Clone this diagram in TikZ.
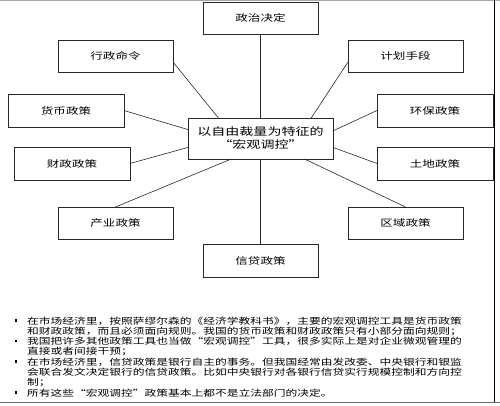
\documentclass[tikz,border=0pt]{standalone}
\usepackage{fontspec}
\usepackage{xcolor}
\usetikzlibrary{positioning}
\newfontfamily\cjk[FakeStretch=1.35]{Noto Sans CJK SC}
\definecolor{frameGray}{RGB}{110,110,110}
\definecolor{lineDark}{RGB}{40,40,40}

\tikzset{
    policy/.style={rectangle, draw=lineDark, line width=0.8pt, fill=white, minimum width=115pt, minimum height=32pt, inner sep=0pt, outer sep=0pt, font={\cjk\fontsize{9.3pt}{11pt}\selectfont}},
    hub/.style={rectangle, draw=lineDark, line width=0.8pt, fill=white, minimum width=145pt, minimum height=41pt, inner sep=0pt, outer sep=0pt, align=center, font={\cjk\fontsize{10.4pt}{13pt}\selectfont}},
    spoke/.style={draw=lineDark, line width=0.6pt}
}

\begin{document}
\begin{tikzpicture}[x=1pt, y=-1pt]
    \useasboundingbox (0,0) rectangle (500,406);
    % outer frame
    \draw [frameGray!60, line width=1pt] (0,0.5) -- (500,0.5);
    \draw [black, line width=1pt] (494,0.5) -- (494,402);
    \draw [frameGray, line width=1.5pt] (0,402.5) -- (500,402.5);

    \node [hub] (macro) at (260.5,138.5) {以自由裁量为特征的\\“宏观调控”};

    \node [policy] (politics) at (260.5,18) {政治决定};
    \node [policy] (admin) at (115.5,56) {行政命令};
    \node [policy] (plan) at (405.5,56) {计划手段};
    \node [policy, minimum width=116pt, minimum height=33pt] (money) at (66,110.5) {货币政策};
    \node [policy, minimum width=116pt, minimum height=33pt] (envir) at (435,110.5) {环保政策};
    \node [policy, minimum width=116pt, minimum height=33pt] (fiscal) at (72,163.5) {财政政策};
    \node [policy, minimum width=116pt, minimum height=33pt] (land) at (435,163.5) {土地政策};
    \node [policy] (industry) at (115.5,223) {产业政策};
    \node [policy] (region) at (405.5,223) {区域政策};
    \node [policy, minimum height=33pt] (credit) at (260.5,260.5) {信贷政策};

    \draw [spoke] (politics.south) -- (macro.north);
    \draw [spoke] (admin.-6) -- (macro.154.8);
    \draw [spoke] (plan.186) -- (macro.22.5);
    \draw [spoke] (money.east) -- (macro.173.3);
    \draw [spoke] (envir.west) -- (macro.6.7);
    \draw [spoke] (fiscal.east) -- (macro.187.5);
    \draw [spoke] (land.west) -- (macro.-7.5);
    \draw [spoke] (industry.north) -- (macro.215.7);
    \draw [spoke] (region.north) -- (macro.-25.2);
    \draw [spoke] (credit.north) -- (macro.south);

    % notes below the chart
    \node [anchor=north west, inner sep=0pt, text width=477pt, font={\cjk\fontsize{8.7pt}{10.3pt}\selectfont}] (notes) at (7,313.5) {%
        \XeTeXlinebreaklocale "zh"\XeTeXlinebreakskip=0pt plus 1pt
        \begin{list}{\rule[2.5pt]{2.5pt}{2.5pt}}{\leftmargin=20pt \labelwidth=10pt \labelsep=10pt \itemsep=0pt \parsep=0pt \topsep=0pt \partopsep=0pt}
        \item 在市场经济里，按照萨缪尔森的《经济学教科书》，主要的宏观调控工具是货币政策\linebreak 和财政政策，而且必须面向规则。我国的货币政策和财政政策只有小部分面向规则；
        \item 我国把许多其他政策工具也当做“宏观调控”工具，很多实际上是对企业微观管理的\linebreak 直接或者间接干预；
        \item 在市场经济里，信贷政策是银行自主的事务。但我国经常由发改委、中央银行和银监\linebreak 会联合发文决定银行的信贷政策。比如中央银行对各银行信贷实行规模控制和方向控\linebreak 制；
        \item 所有这些“宏观调控”政策基本上都不是立法部门的决定。
        \end{list}};
\end{tikzpicture}
\end{document}
